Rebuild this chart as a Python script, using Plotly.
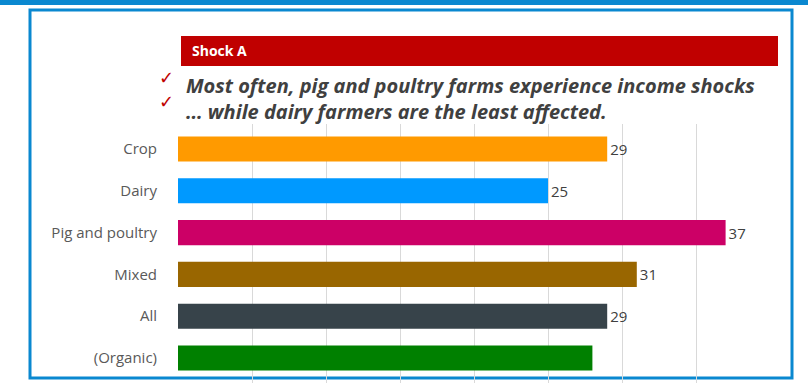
import plotly.graph_objects as go

categories = ["Crop", "Dairy", "Pig and poultry", "Mixed", "All", "(Organic)"]
values = [29, 25, 37, 31, 29, 28]  # (Organic) is cut off in the reference; value estimated
value_labels = ["29", "25", "37", "31", "29", ""]
bar_colors = ["#ff9a00", "#0099ff", "#cc0066", "#996600", "#37434a", "#008000"]
header_text = "Shock A"
line1 = "Most often, pig and poultry farms experience income shocks"
line2 = "… while dairy farmers are the least affected."

W, H = 808, 383
L, R, T, B = 178, 38, 124, 0
PW, PH = W - L - R, H - T - B


def px(x):
    return (x - L) / PW


def py(y):
    return 1 - (y - T) / PH


fig = go.Figure(go.Bar(
    y=categories, x=values, orientation="h",
    marker=dict(color=bar_colors, line=dict(width=0)),
    width=0.6,
    text=value_labels, textposition="outside",
    textfont=dict(family="Open Sans", size=15, color="#404040"),
    cliponaxis=False,
))

shapes = [
    dict(type="rect", xref="paper", yref="paper", x0=px(0), x1=px(W), y0=py(0), y1=py(5),
         fillcolor="#0a88d0", line=dict(width=0), layer="below"),
    dict(type="rect", xref="paper", yref="paper", x0=px(30), x1=px(792), y0=py(10), y1=py(378),
         fillcolor="white", line=dict(color="#0a88d0", width=3), layer="below"),
    dict(type="rect", xref="paper", yref="paper", x0=px(181), x1=px(778), y0=py(36), y1=py(66),
         fillcolor="#c00000", line=dict(width=0), layer="below"),
]

annotations = [
    dict(xref="paper", yref="paper", x=px(190), y=py(51), text="<b>" + header_text + "</b>",
         showarrow=False, xanchor="left", yanchor="middle",
         font=dict(family="Open Sans", size=14, color="white")),
    dict(xref="paper", yref="paper", x=px(184), y=py(85), text="<b><i>" + line1 + "</i></b>",
         showarrow=False, xanchor="left", yanchor="middle",
         font=dict(family="Open Sans", size=20, color="#404040")),
    dict(xref="paper", yref="paper", x=px(184), y=py(111), text="<b><i>" + line2 + "</i></b>",
         showarrow=False, xanchor="left", yanchor="middle",
         font=dict(family="Open Sans", size=20, color="#404040")),
    dict(xref="paper", yref="paper", x=px(176), y=py(78), text="✓",
         showarrow=False, xanchor="right", yanchor="middle",
         font=dict(family="DejaVu Sans", size=18, color="#c00000")),
    dict(xref="paper", yref="paper", x=px(176), y=py(102), text="✓",
         showarrow=False, xanchor="right", yanchor="middle",
         font=dict(family="DejaVu Sans", size=18, color="#c00000")),
]

fig.update_layout(
    width=W, height=H,
    margin=dict(l=L, r=R, t=T, b=B, pad=0),
    paper_bgcolor="white", plot_bgcolor="rgba(0,0,0,0)",
    showlegend=False,
    shapes=shapes, annotations=annotations,
    xaxis=dict(range=[0, 40], dtick=5, showgrid=True, gridcolor="#d9d9d9", gridwidth=1,
               showticklabels=False, zeroline=False, showline=False, ticks=""),
    yaxis=dict(autorange=False, range=[5.6, -0.6], showgrid=False, zeroline=False,
               tickfont=dict(family="Open Sans", size=15, color="#595959"), ticks="",
               ticklabelstandoff=20),
)

fig.write_html("out.html", config={"displayModeBar": False},
               post_script="document.body.style.margin='0';")
